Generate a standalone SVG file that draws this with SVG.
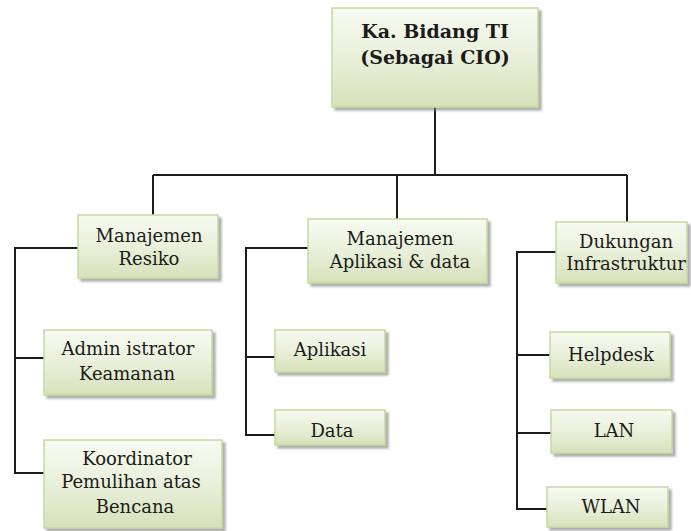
<svg xmlns="http://www.w3.org/2000/svg" width="691" height="531" viewBox="0 0 691 531">
<defs>
<linearGradient id="g" x1="0" y1="0" x2="0" y2="1">
<stop offset="0" stop-color="#f7faf1"/>
<stop offset="0.5" stop-color="#e9f0da"/>
<stop offset="1" stop-color="#d5e2ba"/>
</linearGradient>
<filter id="sh" x="-10%" y="-10%" width="130%" height="140%">
<feDropShadow dx="3" dy="3" stdDeviation="1.2" flood-color="#7a7a7a" flood-opacity="0.6"/>
</filter>
</defs>
<style>
.box{fill:url(#g);stroke:#c6d9a0;stroke-width:1.5;filter:url(#sh)}
.t{font-family:'DejaVu Serif',serif;font-size:18px;fill:#1b1b1b;text-anchor:middle}
.tb{font-family:'DejaVu Serif',serif;font-size:19px;font-weight:bold;fill:#1b1b1b;text-anchor:middle}
.c{fill:none;stroke:#1c1c1c;stroke-width:2}
</style>
<rect width="691" height="531" fill="#ffffff"/>
<g id="connectors">
<path class="c" d="M435 107V175M153 175H627M153 175V215M397 175V219M627 175V222"/>
<path class="c" d="M78 248H15V473H44M15 358H44"/>
<path class="c" d="M308 248H246V435H275M246 357H275"/>
<path class="c" d="M556 252H517V509H547M517 355H550M517 433H551"/>
</g>
<g id="cio">
<rect class="box" x="332" y="8" width="206" height="99"/>
<text class="tb" x="435" y="38">Ka. Bidang TI</text>
<text class="tb" x="435" y="64">(Sebagai CIO)</text>
</g>
<g id="resiko">
<rect class="box" x="78" y="215" width="140" height="63"/>
<text class="t" x="149" y="242">Manajemen</text>
<text class="t" x="149" y="265">Resiko</text>
</g>
<g id="aplikasi-data">
<rect class="box" x="308" y="219" width="179" height="64"/>
<text class="t" x="400" y="245">Manajemen</text>
<text class="t" x="400" y="268">Aplikasi &amp; data</text>
</g>
<g id="infrastruktur">
<rect class="box" x="556" y="222" width="131" height="61"/>
<text class="t" x="626" y="248">Dukungan</text>
<text class="t" x="626" y="270">Infrastruktur</text>
</g>
<g id="admin">
<rect class="box" x="44" y="330" width="168" height="65"/>
<text class="t" x="128" y="355">Admin istrator</text>
<text class="t" x="127" y="380">Keamanan</text>
</g>
<g id="koordinator">
<rect class="box" x="44" y="440" width="178" height="88"/>
<text class="t" x="137" y="465">Koordinator</text>
<text class="t" x="131" y="488">Pemulihan atas</text>
<text class="t" x="135" y="513">Bencana</text>
</g>
<g id="aplikasi">
<rect class="box" x="275" y="330" width="110" height="42"/>
<text class="t" x="330" y="356">Aplikasi</text>
</g>
<g id="data">
<rect class="box" x="275" y="410" width="110" height="35"/>
<text class="t" x="332" y="437">Data</text>
</g>
<g id="helpdesk">
<rect class="box" x="550" y="332" width="120" height="46"/>
<text class="t" x="611" y="361">Helpdesk</text>
</g>
<g id="lan">
<rect class="box" x="551" y="410" width="121" height="43"/>
<text class="t" x="614" y="437">LAN</text>
</g>
<g id="wlan">
<rect class="box" x="547" y="487" width="121" height="40"/>
<text class="t" x="611" y="513">WLAN</text>
</g>
</svg>
